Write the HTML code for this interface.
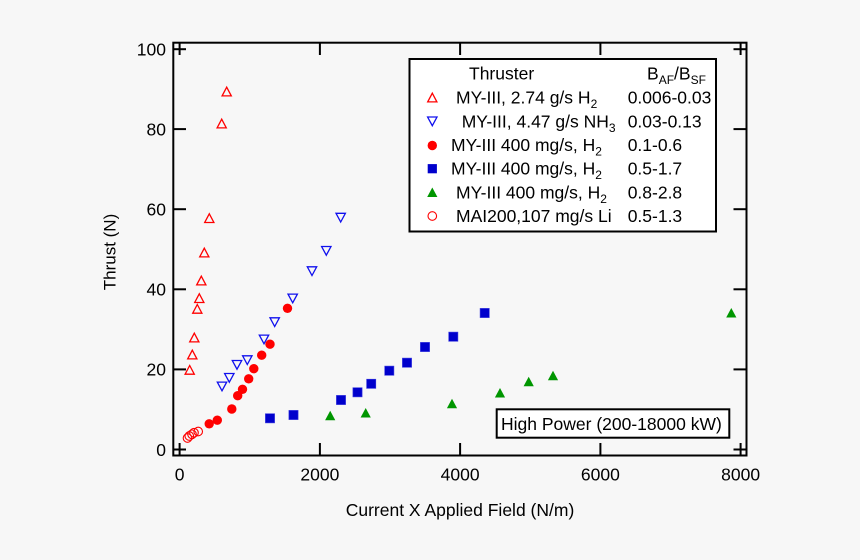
<!DOCTYPE html>
<html>
<head>
<meta charset="utf-8">
<style>
  html,body{margin:0;padding:0;background:#f7f7f7;}
  svg{display:block;}
  text{font-family:"Liberation Sans",Arial,sans-serif;fill:#000;}
</style>
</head>
<body>
<svg width="860" height="560" viewBox="0 0 860 560" xmlns="http://www.w3.org/2000/svg">
  <rect x="0" y="0" width="860" height="560" fill="#f7f7f7"/>

  <!-- frame -->
  <rect x="173.3" y="42.7" width="573.2" height="412.8" fill="none" stroke="#000" stroke-width="2"/>

  <!-- ticks -->
  <g stroke="#000" stroke-width="2">
    <!-- left y ticks -->
    <line x1="173" y1="449.5" x2="186" y2="449.5"/>
    <line x1="173" y1="369.4" x2="186" y2="369.4"/>
    <line x1="173" y1="289.3" x2="186" y2="289.3"/>
    <line x1="173" y1="209.2" x2="186" y2="209.2"/>
    <line x1="173" y1="129.1" x2="186" y2="129.1"/>
    <line x1="173" y1="49.2" x2="186" y2="49.2"/>
    <!-- right y ticks -->
    <line x1="746.5" y1="449.5" x2="733.5" y2="449.5"/>
    <line x1="746.5" y1="369.4" x2="733.5" y2="369.4"/>
    <line x1="746.5" y1="289.3" x2="733.5" y2="289.3"/>
    <line x1="746.5" y1="209.2" x2="733.5" y2="209.2"/>
    <line x1="746.5" y1="129.1" x2="733.5" y2="129.1"/>
    <line x1="746.5" y1="49.2" x2="733.5" y2="49.2"/>
    <!-- top x ticks -->
    <line x1="179.6" y1="42.7" x2="179.6" y2="55"/>
    <line x1="319.9" y1="42.7" x2="319.9" y2="55"/>
    <line x1="460.1" y1="42.7" x2="460.1" y2="55"/>
    <line x1="600.4" y1="42.7" x2="600.4" y2="55"/>
    <line x1="740.6" y1="42.7" x2="740.6" y2="55"/>
    <!-- bottom x ticks -->
    <line x1="179.6" y1="455.5" x2="179.6" y2="443"/>
    <line x1="319.9" y1="455.5" x2="319.9" y2="443"/>
    <line x1="460.1" y1="455.5" x2="460.1" y2="443"/>
    <line x1="600.4" y1="455.5" x2="600.4" y2="443"/>
    <line x1="740.6" y1="455.5" x2="740.6" y2="443"/>
  </g>

  <!-- y tick labels -->
  <g font-size="17.5" text-anchor="end">
    <text x="166" y="455.8">0</text>
    <text x="166" y="375.7">20</text>
    <text x="166" y="295.6">40</text>
    <text x="166" y="215.5">60</text>
    <text x="166" y="135.4">80</text>
    <text x="166" y="55.4">100</text>
  </g>

  <!-- x tick labels -->
  <g font-size="17.5" text-anchor="middle">
    <text x="179.6" y="480.5">0</text>
    <text x="319.9" y="480.5">2000</text>
    <text x="460.1" y="480.5">4000</text>
    <text x="600.4" y="480.5">6000</text>
    <text x="740.6" y="480.5">8000</text>
  </g>

  <!-- axis titles -->
  <text x="460" y="516" font-size="17.5" text-anchor="middle">Current X Applied Field (N/m)</text>
  <text x="0" y="0" font-size="17" text-anchor="middle" transform="translate(115.5,252) rotate(-90)">Thrust (N)</text>

  <!-- red open up triangles -->
  <g fill="none" stroke="#ff0000" stroke-width="1.3">
    <polygon points="226.7,87.2 231.3,95.9 222.1,95.9"/>
    <polygon points="221.7,119.2 226.3,127.9 217.1,127.9"/>
    <polygon points="209.3,213.8 213.9,222.5 204.7,222.5"/>
    <polygon points="204.3,248.2 208.9,256.9 199.7,256.9"/>
    <polygon points="201.3,276.2 205.9,284.9 196.7,284.9"/>
    <polygon points="199.3,293.8 203.9,302.5 194.7,302.5"/>
    <polygon points="197.3,304.5 201.9,313.2 192.7,313.2"/>
    <polygon points="194.3,333.2 198.9,341.9 189.7,341.9"/>
    <polygon points="192.3,350.2 196.9,358.9 187.7,358.9"/>
    <polygon points="189.7,365.5 194.3,374.2 185.1,374.2"/>
  </g>

  <!-- blue open down triangles -->
  <g fill="none" stroke="#1010ee" stroke-width="1.3">
    <polygon points="340.7,222 345.4,213.3 336,213.3"/>
    <polygon points="326.3,255.2 331,246.5 321.6,246.5"/>
    <polygon points="312,275.5 316.7,266.8 307.3,266.8"/>
    <polygon points="292.7,302.8 297.4,294.1 288,294.1"/>
    <polygon points="274.7,326.5 279.4,317.8 270,317.8"/>
    <polygon points="264,343.8 268.7,335.1 259.3,335.1"/>
    <polygon points="247.3,364.5 252,355.8 242.6,355.8"/>
    <polygon points="237,369.2 241.7,360.5 232.3,360.5"/>
    <polygon points="229.3,382.2 234,373.5 224.6,373.5"/>
    <polygon points="222,390.8 226.7,382.1 217.3,382.1"/>
  </g>

  <!-- red filled circles -->
  <g fill="#ff0000">
    <circle cx="287.5" cy="308.3" r="4.7"/>
    <circle cx="270" cy="344.2" r="4.7"/>
    <circle cx="261.7" cy="355.2" r="4.7"/>
    <circle cx="253.8" cy="368.7" r="4.7"/>
    <circle cx="248.7" cy="378.8" r="4.7"/>
    <circle cx="242.5" cy="389.3" r="4.7"/>
    <circle cx="237.7" cy="395.7" r="4.7"/>
    <circle cx="231.8" cy="409" r="4.7"/>
    <circle cx="217.3" cy="420.2" r="4.7"/>
    <circle cx="209.2" cy="423.8" r="4.7"/>
  </g>

  <!-- red open circles -->
  <g fill="none" stroke="#ff0000" stroke-width="1.1">
    <circle cx="187.5" cy="438" r="4.3"/>
    <circle cx="189.3" cy="436" r="4.3"/>
    <circle cx="192" cy="434.3" r="4.3"/>
    <circle cx="194" cy="432.7" r="4.3"/>
    <circle cx="198.2" cy="431.5" r="4.3"/>
  </g>

  <!-- blue squares -->
  <g fill="#0000cc" stroke="#3a3ae0" stroke-width="0.6">
    <rect x="265.4" y="413.7" width="9.2" height="9.2"/>
    <rect x="288.9" y="410.4" width="9.2" height="9.2"/>
    <rect x="336.4" y="395.4" width="9.2" height="9.2"/>
    <rect x="352.9" y="387.7" width="9.2" height="9.2"/>
    <rect x="366.6" y="379.2" width="9.2" height="9.2"/>
    <rect x="384.7" y="366.1" width="9.2" height="9.2"/>
    <rect x="402.4" y="358.1" width="9.2" height="9.2"/>
    <rect x="420.4" y="342.4" width="9.2" height="9.2"/>
    <rect x="448.7" y="332.1" width="9.2" height="9.2"/>
    <rect x="480.1" y="308.4" width="9.2" height="9.2"/>
  </g>

  <!-- green filled triangles -->
  <g fill="#009600">
    <polygon points="330.2,410.8 335.3,420.3 325.1,420.3"/>
    <polygon points="365.7,408 370.8,417.5 360.6,417.5"/>
    <polygon points="452,398.7 457.1,408.2 446.9,408.2"/>
    <polygon points="500,388 505.1,397.5 494.9,397.5"/>
    <polygon points="528.7,376.7 533.8,386.2 523.6,386.2"/>
    <polygon points="553,370.7 558.1,380.2 547.9,380.2"/>
    <polygon points="731.3,308 736.4,317.5 726.2,317.5"/>
  </g>

  <!-- legend -->
  <rect x="409.5" y="59" width="306.5" height="172.5" fill="#ffffff" stroke="#000" stroke-width="2"/>
  <g font-size="17.5">
    <text x="469" y="79.5">Thruster</text>
    <text x="647" y="79.5">B<tspan font-size="12" dy="4.5">AF</tspan><tspan dy="-4.5">/B</tspan><tspan font-size="12" dy="4.5">SF</tspan></text>

    <text x="456" y="103.7">MY-III, 2.74 g/s H<tspan font-size="12" dy="4.5">2</tspan></text>
    <text x="461.7" y="127.4">MY-III, 4.47 g/s NH<tspan font-size="12" dy="4.5">3</tspan></text>
    <text x="451" y="151">MY-III 400 mg/s, H<tspan font-size="12" dy="4.5">2</tspan></text>
    <text x="451" y="174.7">MY-III 400 mg/s, H<tspan font-size="12" dy="4.5">2</tspan></text>
    <text x="456" y="198.3">MY-III 400 mg/s, H<tspan font-size="12" dy="4.5">2</tspan></text>
    <text x="456" y="222">MAI200,107 mg/s Li</text>

    <text x="627.7" y="103.7">0.006-0.03</text>
    <text x="627.7" y="127.4">0.03-0.13</text>
    <text x="627.7" y="151">0.1-0.6</text>
    <text x="627.7" y="174.7">0.5-1.7</text>
    <text x="627.7" y="198.3">0.8-2.8</text>
    <text x="627.7" y="222">0.5-1.3</text>
  </g>
  <!-- legend markers -->
  <polygon points="432.3,93.2 436.9,101.9 427.7,101.9" fill="none" stroke="#ff0000" stroke-width="1.3"/>
  <polygon points="432.3,125.7 437,117 427.6,117" fill="none" stroke="#1010ee" stroke-width="1.3"/>
  <circle cx="432.3" cy="145.5" r="4.7" fill="#ff0000"/>
  <rect x="427.7" y="164.1" width="9.2" height="9.2" fill="#0000cc"/>
  <polygon points="432.3,187.5 437.4,197 427.2,197" fill="#009600"/>
  <circle cx="432.3" cy="216" r="4.3" fill="none" stroke="#ff0000" stroke-width="1.1"/>

  <!-- High Power box -->
  <rect x="496.7" y="409.3" width="232.6" height="28.4" fill="#ffffff" stroke="#000" stroke-width="2"/>
  <text x="501" y="430" font-size="17.5">High Power (200-18000 kW)</text>
</svg>
</body>
</html>
